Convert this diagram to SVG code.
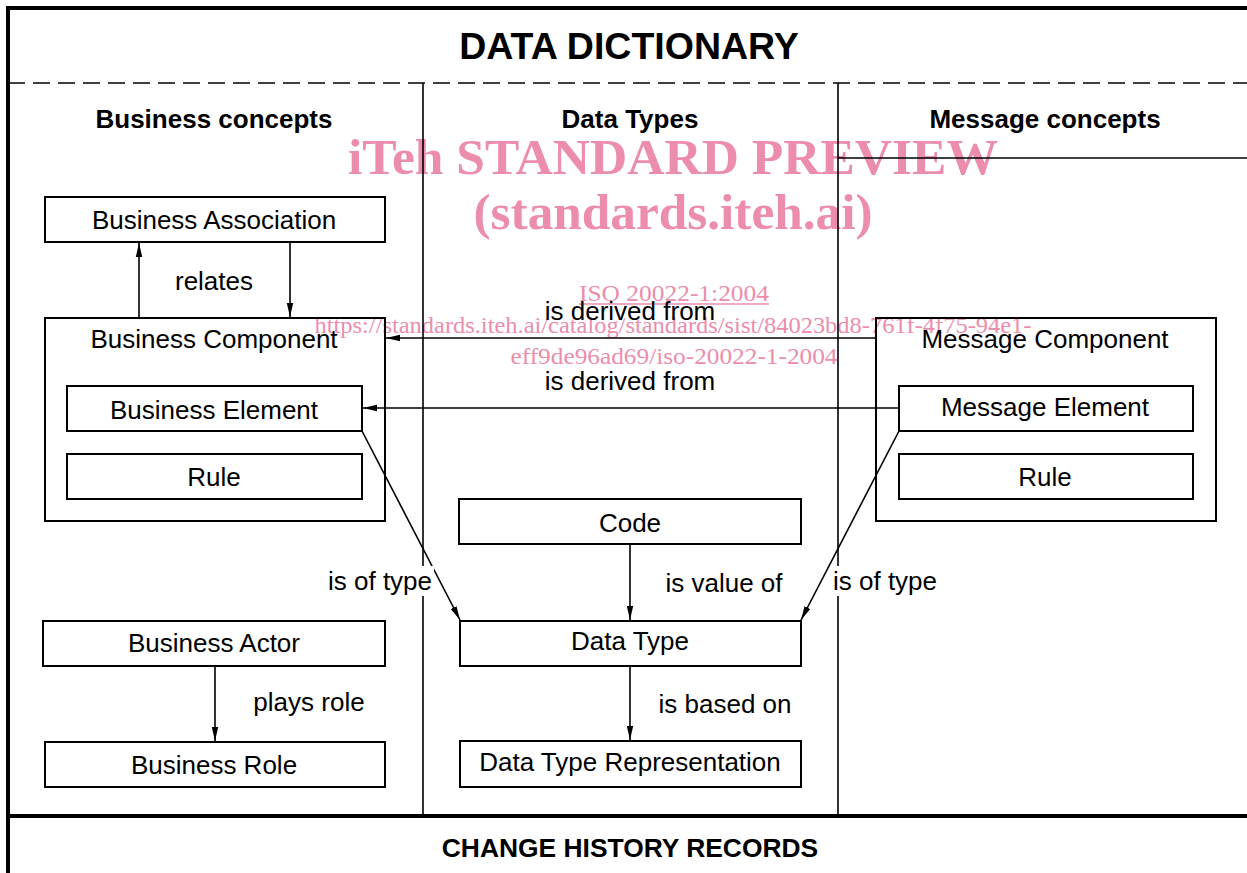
<svg xmlns="http://www.w3.org/2000/svg" width="1247" height="873" viewBox="0 0 1247 873">
  <style>
    .box { fill: none; stroke: #000; stroke-width: 2; }
    .frame { fill: none; stroke: #000; stroke-width: 4; }
    .rule { fill: none; stroke: #000; stroke-width: 1.6; }
    .conn { fill: none; stroke: #000; stroke-width: 1.6; marker-end: url(#arrow); }
    .lbl { font-family: "Liberation Sans", Arial, sans-serif; font-size: 26px; fill: #000; text-anchor: middle; }
    .head { font-family: "Liberation Sans", Arial, sans-serif; font-weight: bold; fill: #000; text-anchor: middle; }
    .wm { font-family: "Liberation Serif", "Times New Roman", serif; fill: #ec8dac; text-anchor: middle; }
  </style>
  <defs>
    <marker id="arrow" viewBox="0 0 14 8" refX="14" refY="4" markerWidth="14" markerHeight="8" markerUnits="userSpaceOnUse" orient="auto">
      <path d="M0,0.8 L14,4 L0,7.2 Z" fill="#000"/>
    </marker>
  </defs>

  <rect width="1247" height="873" fill="#fff"/>

  <!-- watermark, drawn beneath the diagram -->
  <g id="watermark">
    <text class="wm" x="673" y="174" font-size="50" font-weight="bold" textLength="650" lengthAdjust="spacingAndGlyphs">iTeh STANDARD PREVIEW</text>
    <text class="wm" x="673" y="229" font-size="50" font-weight="bold" textLength="399" lengthAdjust="spacingAndGlyphs">(standards.iteh.ai)</text>
    <text class="wm" x="674" y="301" font-size="24" textLength="190" lengthAdjust="spacingAndGlyphs">ISO 20022-1:2004</text>
    <line x1="579" y1="304" x2="769" y2="304" stroke="#ec8dac" stroke-width="1.5"/>
    <text class="wm" x="673" y="333" font-size="24" textLength="717" lengthAdjust="spacingAndGlyphs">https://standards.iteh.ai/catalog/standards/sist/84023bd8-761f-4f75-94e1-</text>
    <text class="wm" x="674" y="364" font-size="24" textLength="327" lengthAdjust="spacingAndGlyphs">eff9de96ad69/iso-20022-1-2004</text>
  </g>

  <!-- frame and column dividers -->
  <g id="frame">
    <line class="frame" x1="6" y1="8" x2="1247" y2="8"/>
    <line class="frame" x1="8" y1="6" x2="8" y2="873"/>
    <line class="frame" x1="8" y1="816" x2="1247" y2="816"/>
    <line class="rule" x1="8" y1="83" x2="1247" y2="83" stroke-dasharray="17 8"/>
    <line class="rule" x1="423" y1="83" x2="423" y2="816"/>
    <line class="rule" x1="838" y1="83" x2="838" y2="816"/>
    <line class="rule" x1="838" y1="158" x2="1247" y2="158"/>
  </g>

  <g id="headings">
    <text class="head" x="629" y="59" font-size="37.5">DATA DICTIONARY</text>
    <text class="head" x="214" y="128" font-size="26">Business concepts</text>
    <text class="head" x="630" y="128" font-size="26">Data Types</text>
    <text class="head" x="1045" y="128" font-size="26">Message concepts</text>
    <text class="head" x="630" y="857" font-size="26.4">CHANGE HISTORY RECORDS</text>
  </g>

  <!-- business concepts -->
  <g id="business-association">
    <rect class="box" x="45" y="197" width="340" height="45"/>
    <text class="lbl" x="214" y="229">Business Association</text>
  </g>
  <g id="business-component">
    <rect class="box" x="45" y="318" width="340" height="203"/>
    <text class="lbl" x="214" y="348">Business Component</text>
  </g>
  <g id="business-element">
    <rect class="box" x="67" y="386" width="295" height="45"/>
    <text class="lbl" x="214" y="419">Business Element</text>
  </g>
  <g id="business-rule">
    <rect class="box" x="67" y="454" width="295" height="45"/>
    <text class="lbl" x="214" y="486">Rule</text>
  </g>
  <g id="business-actor">
    <rect class="box" x="43" y="621" width="342" height="45"/>
    <text class="lbl" x="214" y="652">Business Actor</text>
  </g>
  <g id="business-role">
    <rect class="box" x="45" y="742" width="340" height="45"/>
    <text class="lbl" x="214" y="774">Business Role</text>
  </g>

  <!-- data types -->
  <g id="code">
    <rect class="box" x="459" y="499" width="342" height="45"/>
    <text class="lbl" x="630" y="532">Code</text>
  </g>
  <g id="data-type">
    <rect class="box" x="460" y="621" width="341" height="45"/>
    <text class="lbl" x="630" y="650">Data Type</text>
  </g>
  <g id="data-type-representation">
    <rect class="box" x="460" y="741" width="341" height="46"/>
    <text class="lbl" x="630" y="771">Data Type Representation</text>
  </g>

  <!-- message concepts -->
  <g id="message-component">
    <rect class="box" x="876" y="318" width="340" height="203"/>
    <text class="lbl" x="1045" y="348">Message Component</text>
  </g>
  <g id="message-element">
    <rect class="box" x="899" y="386" width="294" height="45"/>
    <text class="lbl" x="1045" y="416">Message Element</text>
  </g>
  <g id="message-rule">
    <rect class="box" x="899" y="454" width="294" height="45"/>
    <text class="lbl" x="1045" y="486">Rule</text>
  </g>

  <!-- connectors -->
  <g id="connectors">
    <line class="conn" x1="139" y1="318" x2="139" y2="243"/>
    <line class="conn" x1="290" y1="242" x2="290" y2="317"/>
    <line class="conn" x1="215" y1="666" x2="215" y2="741"/>
    <line class="conn" x1="876" y1="338" x2="386" y2="338"/>
    <line class="conn" x1="899" y1="408" x2="363" y2="408"/>
    <line class="conn" x1="362" y1="431" x2="460" y2="620"/>
    <line class="conn" x1="899" y1="431" x2="801" y2="620"/>
    <line class="conn" x1="630" y1="544" x2="630" y2="620"/>
    <line class="conn" x1="630" y1="666" x2="630" y2="740"/>

    <text class="lbl" x="214" y="290">relates</text>
    <text class="lbl" x="309" y="711">plays role</text>
    <text class="lbl" x="630" y="320">is derived from</text>
    <text class="lbl" x="630" y="390">is derived from</text>
    <rect x="414" y="566" width="20" height="30" fill="#fff"/>
    <text class="lbl" x="380" y="590">is of type</text>
    <text class="lbl" x="724" y="592">is value of</text>
    <rect x="830" y="566" width="14" height="30" fill="#fff"/>
    <text class="lbl" x="885" y="590">is of type</text>
    <text class="lbl" x="725" y="713">is based on</text>
  </g>
</svg>
